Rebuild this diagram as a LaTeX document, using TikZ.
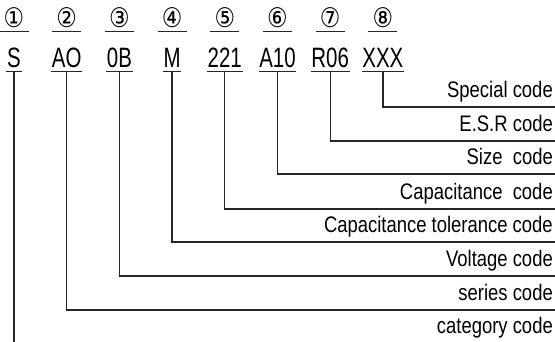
\documentclass[tikz,border=0pt]{standalone}
\usepackage{fontspec}
\setmainfont{Liberation Sans}[FakeStretch=0.82]
\newfontfamily\codefont{Liberation Sans}[FakeStretch=0.73]
\newfontfamily\numfont{DejaVu Sans}[FakeStretch=0.85]
\usepackage{tikz}

\begin{document}
\begin{tikzpicture}[x=1pt,y=-1pt,
	num/.style={inner sep=0pt,minimum height=28pt,font=\numfont\fontsize{27}{29}\selectfont},
	code/.style={anchor=base,inner xsep=0.5pt,inner ysep=3pt,text depth=0pt,font=\codefont\fontsize{28}{30}\selectfont},
	lbl/.style={anchor=base east,inner sep=0pt,font=\fontsize{22.5}{24}\selectfont},
	wire/.style={line width=1.3pt,black!85}]
	\useasboundingbox (0,0) rectangle (555,342);
	\node[num] (n1) at (14,17.5) {①};
	\node[num] (n2) at (66.7,17.5) {②};
	\node[num] (n3) at (119.4,17.5) {③};
	\node[num] (n4) at (172.1,17.5) {④};
	\node[num] (n5) at (224.8,17.5) {⑤};
	\node[num] (n6) at (277.5,17.5) {⑥};
	\node[num] (n7) at (330.2,17.5) {⑦};
	\node[num] (n8) at (382.9,17.5) {⑧};
	\node[code] (c1) at (14,68) {S};
	\node[code] (c2) at (66.7,68) {AO};
	\node[code] (c3) at (119.4,68) {0B};
	\node[code] (c4) at (172.1,68) {M};
	\node[code] (c5) at (224.8,68) {221};
	\node[code] (c6) at (277.5,68) {A10};
	\node[code] (c7) at (330.2,68) {R06};
	\node[code] (c8) at (382.9,68) {XXX};
	\node[lbl] (l8) at (553,98) {Special code};
	\node[lbl] (l7) at (553,132) {E.S.R code};
	\node[lbl] (l6) at (553,165) {Size\ \ code};
	\node[lbl] (l5) at (553,200) {Capacitance\ \ code};
	\node[lbl] (l4) at (553,233) {Capacitance tolerance code};
	\node[lbl] (l3) at (553,267) {Voltage code};
	\node[lbl] (l2) at (553,301) {series code};
	\node[lbl] (l1) at (553,334) {category code};
	\coordinate (e8) at (555,107);
	\coordinate (e7) at (555,141);
	\coordinate (e6) at (555,174);
	\coordinate (e5) at (555,209);
	\coordinate (e4) at (555,242);
	\coordinate (e3) at (555,276);
	\coordinate (e2) at (555,310);
	\coordinate (e1) at (14,342);
	\foreach \i in {1,...,8} {
		\draw[wire] ([xshift=-14.5pt]n\i.south) -- ([xshift=14.5pt]n\i.south);
		\draw[wire] (c\i.south west) -- (c\i.south east);
	}
	\draw[wire] (c8.south) |- (e8);
	\draw[wire] (c7.south) |- (e7);
	\draw[wire] (c6.south) |- (e6);
	\draw[wire] (c5.south) |- (e5);
	\draw[wire] (c4.south) |- (e4);
	\draw[wire] (c3.south) |- (e3);
	\draw[wire] (c2.south) |- (e2);
	\draw[wire] (c1.south) -- (e1);
\end{tikzpicture}
\end{document}
